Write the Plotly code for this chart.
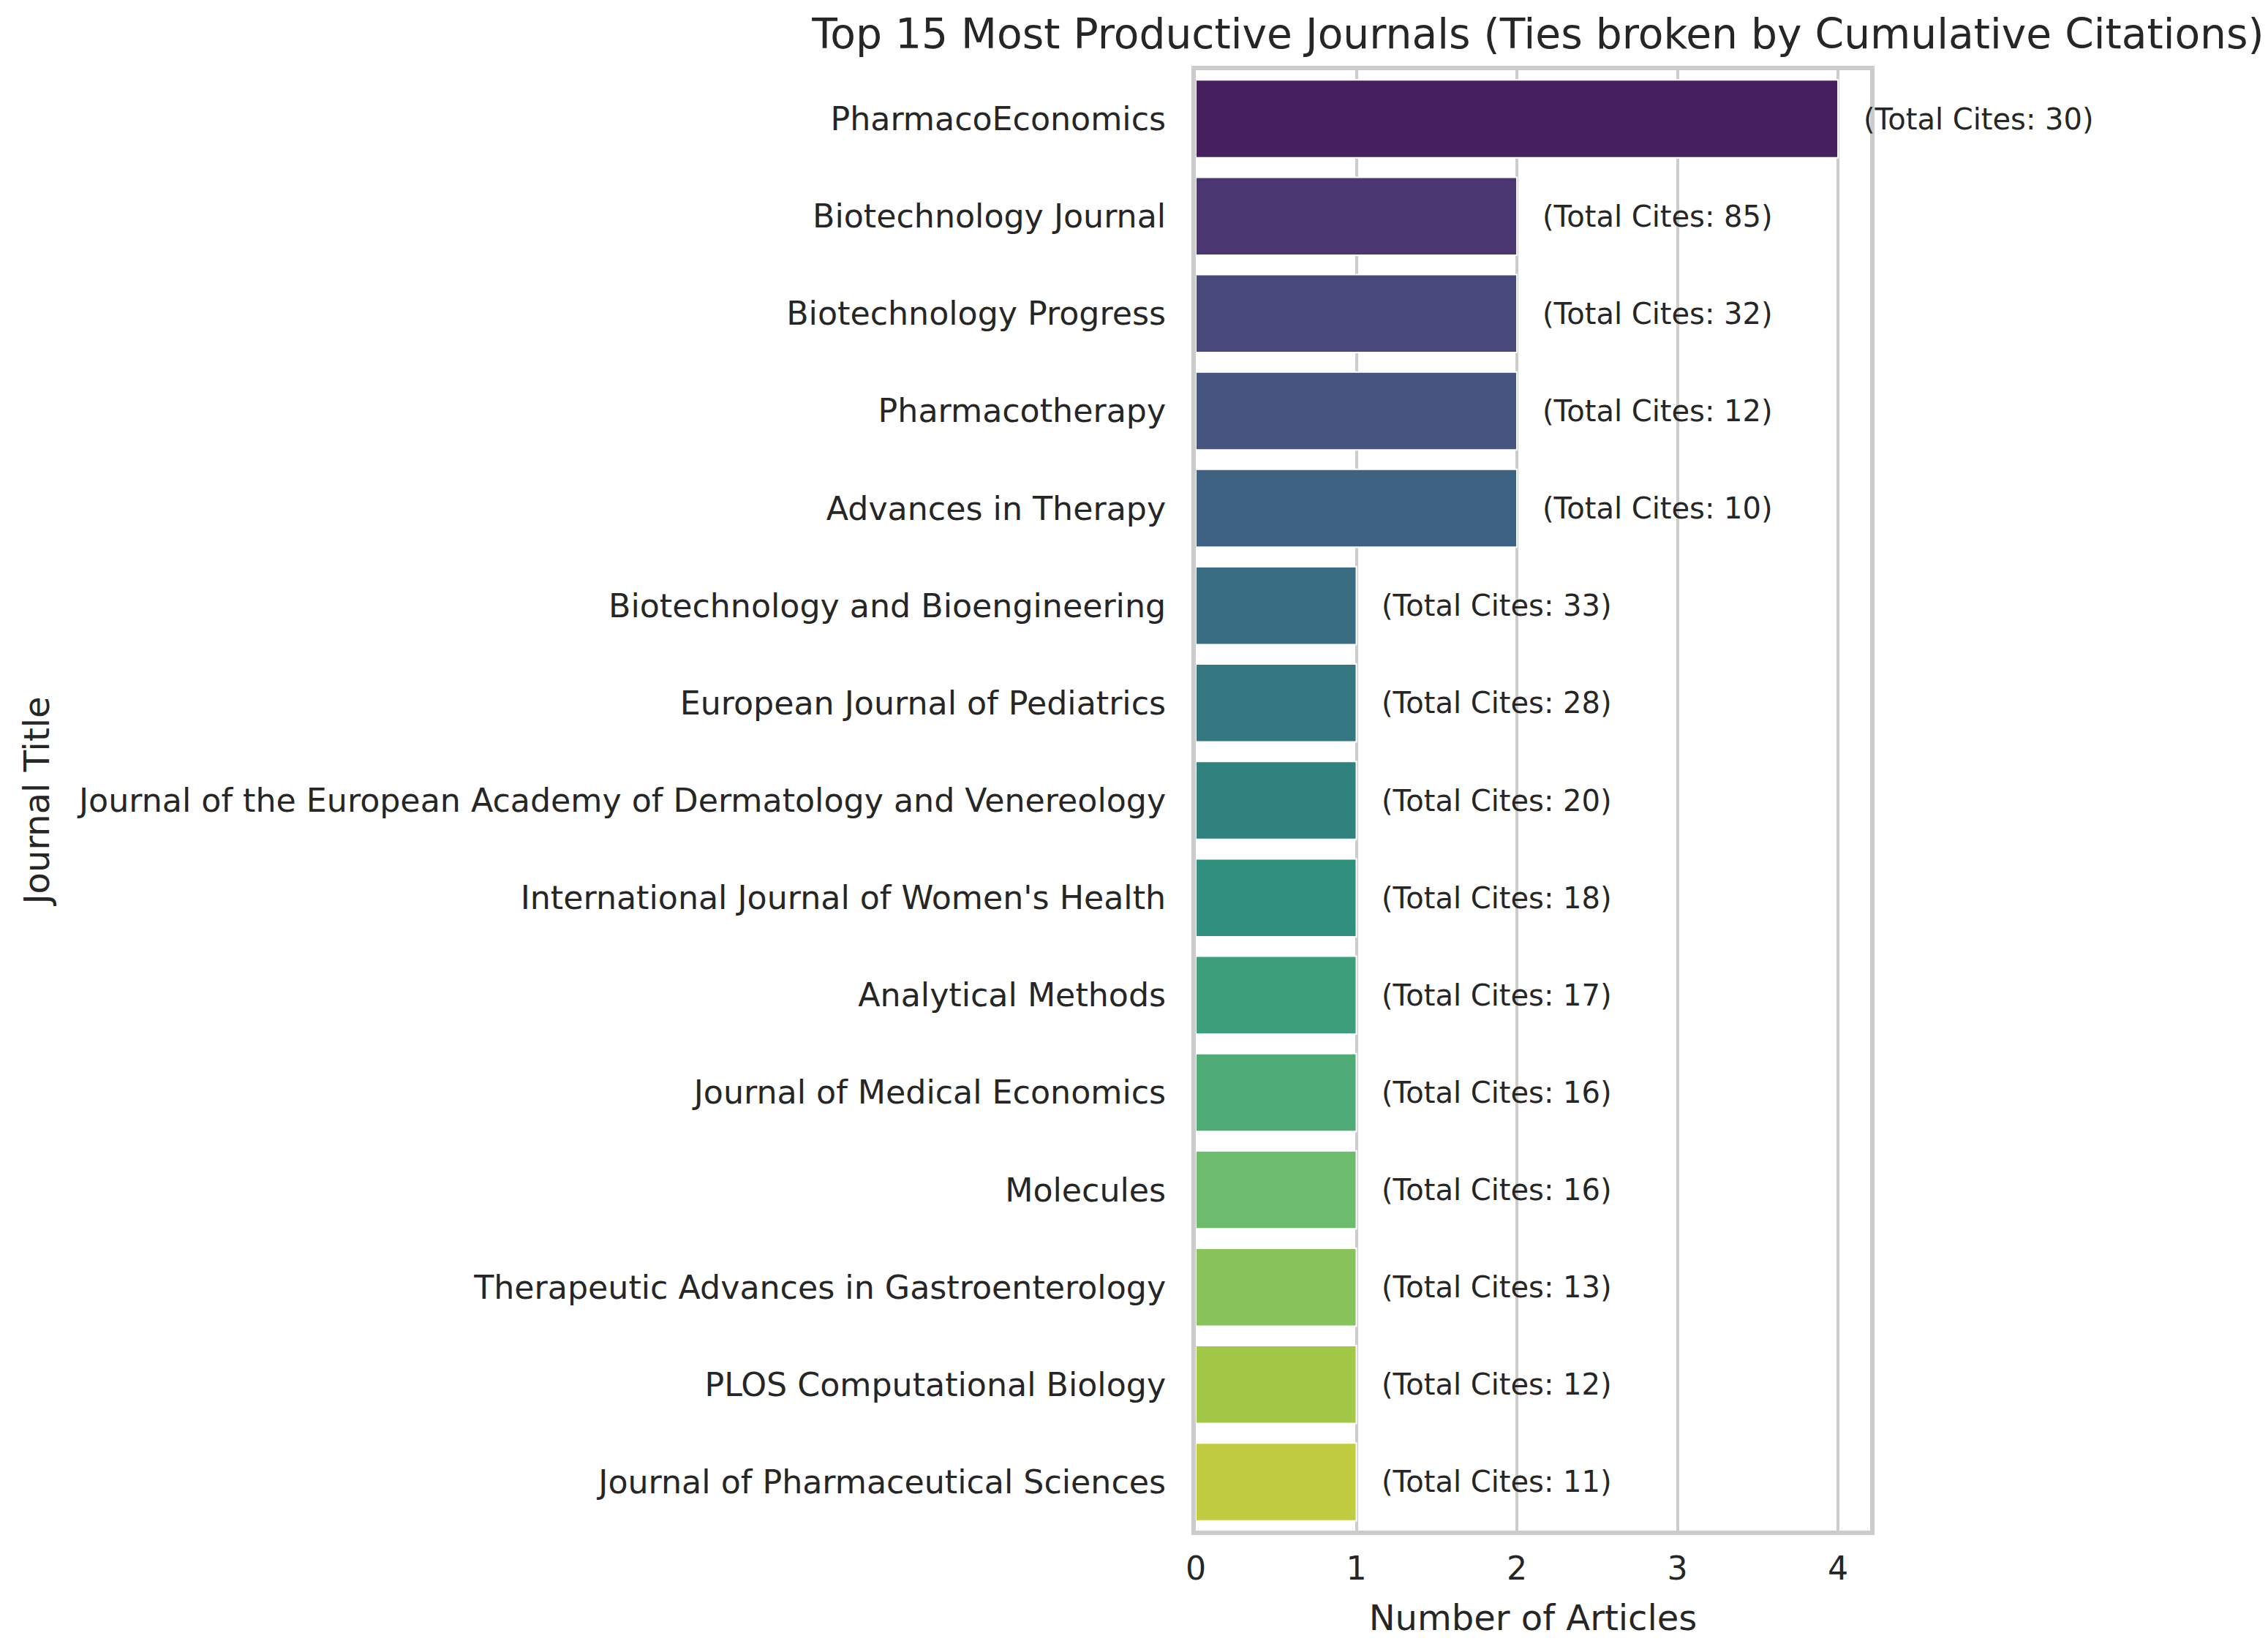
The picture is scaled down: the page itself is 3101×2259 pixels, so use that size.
"""
Top 15 most productive journals, horizontal bar chart
"""

import colorsys

import numpy as np
import plotly.graph_objects as go
from plotly.colors import sample_colorscale, unlabel_rgb

journals = [
    "PharmacoEconomics",
    "Biotechnology Journal",
    "Biotechnology Progress",
    "Pharmacotherapy",
    "Advances in Therapy",
    "Biotechnology and Bioengineering",
    "European Journal of Pediatrics",
    "Journal of the European Academy of Dermatology and Venereology",
    "International Journal of Women's Health",
    "Analytical Methods",
    "Journal of Medical Economics",
    "Molecules",
    "Therapeutic Advances in Gastroenterology",
    "PLOS Computational Biology",
    "Journal of Pharmaceutical Sciences",
]
articles = [4, 2, 2, 2, 2, 1, 1, 1, 1, 1, 1, 1, 1, 1, 1]
total_cites = [30, 85, 32, 12, 10, 33, 28, 20, 18, 17, 16, 16, 13, 12, 11]

x_ticks = [0, 1, 2, 3, 4]

TEXT = "#262626"
GRID = "#cccccc"
FONT = "DejaVu Sans"


def viridis_palette(n, saturation=0.75):
    """seaborn style viridis palette (endpoints dropped, desaturated)"""
    pos = np.linspace(0, 1, n + 2)[1:-1]
    out = []
    for c in sample_colorscale("Viridis", list(pos)):
        r, g, b = [v / 255 for v in unlabel_rgb(c)]
        h, l, s = colorsys.rgb_to_hls(r, g, b)
        r, g, b = colorsys.hls_to_rgb(h, l, s * saturation)
        out.append("rgb({:.0f},{:.0f},{:.0f})".format(r * 255, g * 255, b * 255))
    return out


colors = viridis_palette(len(journals))

fig = go.Figure()

fig.add_trace(
    go.Bar(
        x=articles,
        y=journals,
        orientation="h",
        width=0.8,
        marker={"color": colors, "line": {"color": "white", "width": 2}},
        showlegend=False,
    )
)

for journal, n, cites in zip(journals, articles, total_cites):
    fig.add_annotation(
        x=n + 0.15,
        y=journal,
        text="(Total Cites: {})".format(cites),
        showarrow=False,
        xanchor="left",
        yanchor="middle",
        font={"size": 40, "color": TEXT, "family": FONT},
    )

fig.update_layout(
    width=3101,
    height=2259,
    plot_bgcolor="white",
    paper_bgcolor="white",
    font={"family": FONT, "color": TEXT},
    margin={"l": 1627, "r": 552, "t": 88, "b": 174, "pad": 0},
    title={
        "text": "Top 15 Most Productive Journals (Ties broken by Cumulative Citations)",
        "x": 2095 / 3101,
        "xanchor": "center",
        "y": 1 - 38 / 2259,
        "yanchor": "middle",
        "font": {"size": 56.7, "color": TEXT, "family": FONT},
    },
)

fig.update_xaxes(
    range=[0, 4.2],
    tickvals=x_ticks,
    tickfont={"size": 44.3, "color": TEXT},
    showgrid=True,
    gridcolor=GRID,
    gridwidth=4,
    zeroline=False,
    showline=True,
    linecolor=GRID,
    linewidth=6,
    mirror=True,
    ticks="",
    ticklabelstandoff=8,
    title={"text": "Number of Articles", "font": {"size": 48, "color": TEXT}, "standoff": 28},
)

fig.update_yaxes(
    range=[14.5, -0.5],
    categoryorder="array",
    categoryarray=journals,
    tickfont={"size": 44.3, "color": TEXT},
    showgrid=False,
    zeroline=False,
    showline=True,
    linecolor=GRID,
    linewidth=6,
    mirror=True,
    ticks="",
    ticklabelstandoff=26,
    title={"text": "Journal Title", "font": {"size": 48, "color": TEXT}, "standoff": 24},
)

fig.write_html("out.html")
